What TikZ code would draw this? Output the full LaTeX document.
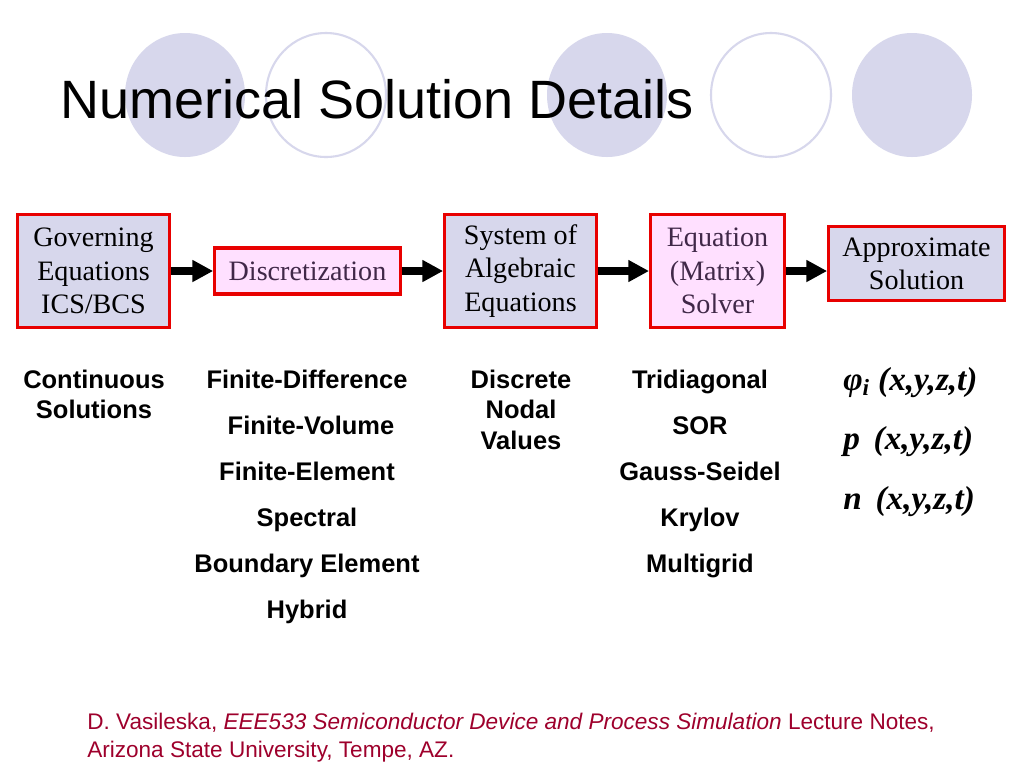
\documentclass[tikz,border=0pt]{standalone}
\usepackage{fontspec}
\setmainfont{Liberation Serif}
\setsansfont{Liberation Sans}
\usetikzlibrary{arrows.meta}
\definecolor{lavender}{RGB}{215,215,236}
\definecolor{pinkbox}{RGB}{255,224,255}
\definecolor{boxred}{RGB}{232,0,0}
\definecolor{pinktext}{RGB}{64,40,72}
\definecolor{refred}{RGB}{158,0,44}
\begin{document}
\begin{tikzpicture}[x=0.01in, y=-0.01in, >={Triangle[length=15pt,width=15pt]},
    box/.style={draw=boxred, line width=2.4pt, fill=lavender, align=center, inner sep=0pt,
        font=\fontsize{20.3}{24}\selectfont},
    pbox/.style={box, fill=pinkbox, text=pinktext},
    flow/.style={->, line width=5.5pt},
    item/.style={anchor=base, inner sep=0pt, font=\sffamily\bfseries\fontsize{18.4}{22}\selectfont},
    field/.style={anchor=base west, inner sep=0pt, font=\bfseries\itshape\fontsize{24}{28}\selectfont},
    ref/.style={anchor=base west, inner sep=0pt, text=refred, font=\sffamily\fontsize{16.3}{20}\selectfont}]
    {
    \useasboundingbox[fill=white] (0,0) rectangle (1024,768);

    \fill[lavender] (185,95) ellipse [x radius=60, y radius=62];
    \draw[lavender, line width=1.5pt] (326,95) ellipse [x radius=60, y radius=62];
    \fill[lavender] (607,95) ellipse [x radius=60, y radius=62];
    \draw[lavender, line width=1.5pt] (771,95) ellipse [x radius=60, y radius=62];
    \fill[lavender] (912,95) ellipse [x radius=60, y radius=62];

    \node[anchor=base west, inner sep=0pt, font=\sffamily\fontsize{39}{45}\selectfont] (title) at (60,118) {Numerical Solution Details};

    \node[box, minimum width=109.4pt, minimum height=81.4pt] (gov) at (93.5,271) {Governing\\Equations\\ICS/BCS};
    \node[pbox, minimum width=133.9pt, minimum height=33.1pt] (disc) at (307.5,271) {Discretization};
    \node[box, minimum width=109.4pt, minimum height=81.4pt] (sys) at (520.5,271) {System of\\Algebraic\\Equations};
    \node[pbox, minimum width=96.5pt, minimum height=81.4pt] (solver) at (717.5,271) {Equation\\(Matrix)\\Solver};
    \node[box, minimum width=126.7pt, minimum height=53.3pt] (approx) at (916.5,263.5) {Approximate\\Solution};

    \draw[flow] (gov) -- (disc);
    \draw[flow] (disc) -- (sys);
    \draw[flow] (sys) -- (solver);
    \draw[flow] (solver.east) -- (solver.east -| approx.west);

    \node[item] (cont1) at (94,388) {Continuous};
    \node[item] (cont2) at (94,418) {Solutions};

    \node[item] (fd) at (307,388) {Finite-Difference};
    \node[item] (fv) at (311,434) {Finite-Volume};
    \node[item] (fe) at (307,480) {Finite-Element};
    \node[item] (spec) at (307,526) {Spectral};
    \node[item] (bem) at (307,572) {Boundary Element};
    \node[item] (hyb) at (307,618) {Hybrid};

    \node[item] (nodal1) at (521,388) {Discrete};
    \node[item] (nodal2) at (521,418) {Nodal};
    \node[item] (nodal3) at (521,449) {Values};

    \node[item] (tri) at (700,388) {Tridiagonal};
    \node[item] (sor) at (700,434) {SOR};
    \node[item] (gs) at (700,480) {Gauss-Seidel};
    \node[item] (kry) at (700,526) {Krylov};
    \node[item] (mg) at (700,572) {Multigrid};

    \node[field] (phi) at (843,390) {φ\textsubscript{i} (x,y,z,t)};
    \node[field] (p) at (843,449) {p \,(x,y,z,t)};
    \node[field] (n) at (843,509) {n \,(x,y,z,t)};

    \node[ref] (ref1) at (87,729) {D. Vasileska, \textit{EEE533 Semiconductor Device and Process Simulation} Lecture Notes,};
    \node[ref] (ref2) at (87,757) {Arizona State University, Tempe, AZ.};
    }
\end{tikzpicture}
\end{document}
